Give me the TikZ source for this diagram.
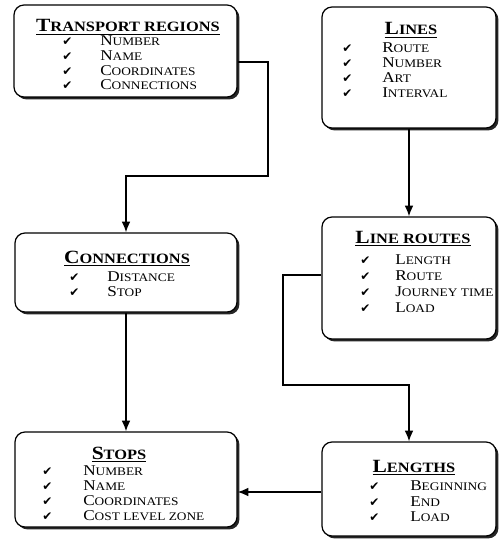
\documentclass[tikz,border=0pt]{standalone}
\usepackage{fontspec}
\setmainfont{Liberation Serif}[FakeStretch=1.15]
\newfontfamily\ckfont{DejaVu Sans}
\usetikzlibrary{arrows.meta,fit,shadows}
\newcommand\ttl[2]{\textbf{{\fontsize{14}{14}\selectfont #1}{\fontsize{10.7}{12}\selectfont #2}}}
\newcommand\itm[2]{{\fontsize{11.2}{12}\selectfont #1}{\fontsize{8.7}{10}\selectfont #2}}
\newcommand\ulin[1]{\setbox0\hbox{#1}\rlap{\rule[-2.2pt]{\wd0}{0.9pt}}\box0}
\newcommand\ck{{\ckfont\fontsize{9}{9}\selectfont ✔}}
\begin{document}
\begin{tikzpicture}[x=0.75pt,y=-0.75pt,
  box/.style={draw, line width=0.9pt, fill=white, rounded corners=7.5pt, inner sep=0pt,
    drop shadow={shadow xshift=1.8pt, shadow yshift=-1.8pt, fill=black!85, opacity=1}},
  txt/.style={anchor=base west, inner sep=0pt},
  ttlnode/.style={anchor=base, inner sep=0pt},
  arr/.style={line width=1.1pt, -{Latex[length=8pt,width=6.5pt]}}]
\useasboundingbox (0,0) rectangle (500,556);

% boxes
\node[box, fit={(14,5) (237,97)}] (tr) {};
\node[box, fit={(322,7) (496,128)}] (lines) {};
\node[box, fit={(322,217) (496,339)}] (lr) {};
\node[box, fit={(15,233) (237,312)}] (con) {};
\node[box, fit={(15,432) (237,527)}] (stops) {};
\node[box, fit={(322,442) (496,536)}] (len) {};

% Transport regions
\node[ttlnode] (trt) at (128,32) {\ulin{\ttl{T}{RANSPORT REGIONS}}};
\node[txt] (trc1) at (62,46) {\ck}; \node[txt] (tri1) at (100,46) {\itm{N}{UMBER}};
\node[txt] (trc2) at (62,61) {\ck}; \node[txt] (tri2) at (100,61) {\itm{N}{AME}};
\node[txt] (trc3) at (62,76) {\ck}; \node[txt] (tri3) at (100,76) {\itm{C}{OORDINATES}};
\node[txt] (trc4) at (62,90) {\ck}; \node[txt] (tri4) at (100,90) {\itm{C}{ONNECTIONS}};

% Lines
\node[ttlnode] (lit) at (411,35) {\ulin{\ttl{L}{INES}}};
\node[txt] (lic1) at (342,53) {\ck}; \node[txt] (lii1) at (382,53) {\itm{R}{OUTE}};
\node[txt] (lic2) at (342,68) {\ck}; \node[txt] (lii2) at (382,68) {\itm{N}{UMBER}};
\node[txt] (lic3) at (342,83) {\ck}; \node[txt] (lii3) at (382,83) {\itm{A}{RT}};
\node[txt] (lic4) at (342,98) {\ck}; \node[txt] (lii4) at (382,98) {\itm{I}{NTERVAL}};

% Line routes
\node[ttlnode] (lrt) at (413,243) {\ulin{\ttl{L}{INE ROUTES}}};
\node[txt] (lrc1) at (360,264) {\ck}; \node[txt] (lri1) at (395,264) {\itm{L}{ENGTH}};
\node[txt] (lrc2) at (360,280) {\ck}; \node[txt] (lri2) at (395,280) {\itm{R}{OUTE}};
\node[txt] (lrc3) at (360,296) {\ck}; \node[txt] (lri3) at (395,296) {\itm{J}{OURNEY TIME}};
\node[txt] (lrc4) at (360,312) {\ck}; \node[txt] (lri4) at (395,312) {\itm{L}{OAD}};

% Connections
\node[ttlnode] (cot) at (127,263) {\ulin{\ttl{C}{ONNECTIONS}}};
\node[txt] (coc1) at (69,281) {\ck}; \node[txt] (coi1) at (107,281) {\itm{D}{ISTANCE}};
\node[txt] (coc2) at (69,296) {\ck}; \node[txt] (coi2) at (107,296) {\itm{S}{TOP}};

% Stops
\node[ttlnode] (stt) at (119,459) {\ulin{\ttl{S}{TOPS}}};
\node[txt] (stc1) at (42,475) {\ck}; \node[txt] (sti1) at (83,475) {\itm{N}{UMBER}};
\node[txt] (stc2) at (42,490) {\ck}; \node[txt] (sti2) at (83,490) {\itm{N}{AME}};
\node[txt] (stc3) at (42,505) {\ck}; \node[txt] (sti3) at (83,505) {\itm{C}{OORDINATES}};
\node[txt] (stc4) at (42,520) {\ck}; \node[txt] (sti4) at (83,520) {\itm{C}{OST LEVEL ZONE}};

% Lengths
\node[ttlnode] (let) at (414,472) {\ulin{\ttl{L}{ENGTHS}}};
\node[txt] (lec1) at (369,490) {\ck}; \node[txt] (lei1) at (410,490) {\itm{B}{EGINNING}};
\node[txt] (lec2) at (369,506) {\ck}; \node[txt] (lei2) at (410,506) {\itm{E}{ND}};
\node[txt] (lec3) at (369,521) {\ck}; \node[txt] (lei3) at (410,521) {\itm{L}{OAD}};

% connectors
\coordinate (k1) at (268,62);
\coordinate (k2) at (268,176);
\draw[arr] (tr.east |- k1) -- (k1) -- (k2) -- (k2 -| con.north) -- (con.north);
\draw[arr] (lines.south) -- (lr.north);
\draw[arr] (con.south) -- (stops.north);
\coordinate (k3) at (283,275);
\coordinate (k4) at (283,385);
\draw[arr] (lr.west |- k3) -- (k3) -- (k4) -- (k4 -| len.north) -- (len.north);
\coordinate (k5) at (300,492);
\draw[arr] (len.west |- k5) -- (stops.east |- k5);
\end{tikzpicture}
\end{document}
